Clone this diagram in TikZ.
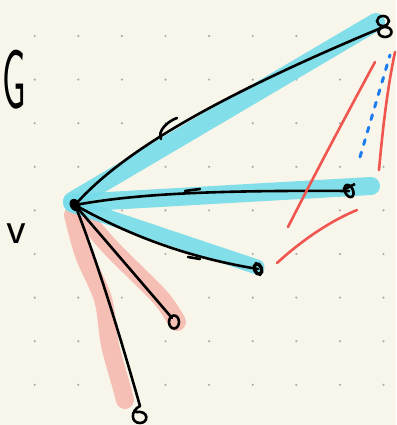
\documentclass[tikz,border=0pt]{standalone}
\usetikzlibrary{calc}
\definecolor{paper}{RGB}{248,246,234}
\definecolor{dotgray}{RGB}{172,170,164}
\definecolor{hlcyan}{RGB}{118,220,233}
\definecolor{hlpink}{RGB}{246,186,176}
\definecolor{penred}{RGB}{240,86,80}
\definecolor{penblue}{RGB}{28,124,240}

\begin{document}
\begin{tikzpicture}[
  x=1pt, y=-1pt,
  pt/.style={coordinate},
  hlblue/.style={draw=hlcyan, line width=18pt, line cap=round, opacity=0.9},
  hlred/.style={draw=hlpink, line width=18pt, line cap=round, line join=round, opacity=0.9},
  edge/.style={draw=black, line width=2.6pt, line cap=round},
  vmark/.style={draw=black, line width=2.6pt},
  harp/.style={draw=black, line width=2.6pt, line cap=round},
  redpen/.style={draw=penred, line width=2.6pt, line cap=round},
  bluepen/.style={draw=penblue, line width=3pt, line cap=round, dash pattern=on 5pt off 8pt},
  hand/.style={font=\sffamily, inner sep=0pt}
]

% paper and dot grid
\fill[paper] (0,0) rectangle (396,425);
\useasboundingbox (0,0) rectangle (396,425);
\foreach \i in {0,...,8}
  \foreach \j in {0,...,8}
    \fill[dotgray] (34.7+43.6*\i, 36+43.6*\j) circle (1.2);

% vertices
\node[pt] (v) at (75,205) {};
\node[pt] (a) at (381,28) {};
\node[pt] (b) at (349,191) {};
\node[pt] (c) at (258,269) {};
\node[pt] (d) at (172,318) {};
\node[pt] (f) at (140,406) {};

% highlights
\draw[hlred] plot[smooth] coordinates {(73,215) (84,255) (103,299) (110,345) (121,385) (125,400)};
\draw[hlred] plot[smooth] coordinates {(78,210) (112,249) (160,297) (177,322)};
\draw[hlblue] (72,201) -- (376,22);
\draw[hlblue] (72,203) -- (371,186);
\draw[hlcyan, line width=15pt, line cap=round, opacity=0.9] (72,205) -- (257,267);

% edges from v
\draw[edge] (v) .. controls (125,148) and (228,92) .. (a);
\draw[edge] (v) .. controls (130,195) and (200,190) .. (b);
\draw[edge] (v) .. controls (130,236) and (190,258) .. (c);
\draw[edge] (v) -- (d);
\draw[edge] (v) .. controls (100,268) and (124,350) .. (f);

% harpoon ticks
\draw[harp] (177,118) .. controls (168,121) and (157,131) .. (161,139);
\draw[harp] (185,191) -- (200,189);
\draw[harp] (188,257) -- (200,259);

% vertex marks
\fill[black, rotate around={30:(v)}] (v) ellipse (5 and 6.5);
\draw[vmark] (383,21) ellipse (6 and 5);
\draw[vmark] (385,32) ellipse (6.5 and 5);
\draw[vmark, rotate around={25:(b)}] (b) ellipse (4 and 6.5);
\draw[vmark] (b) ++(-6,-1) -- ++(12,-6);
\draw[black, line width=3.4pt, rotate around={20:(c)}] (c) ellipse (3.5 and 5.5);
\draw[vmark] (d) ++(2,4) ellipse (5 and 6.5);
\draw[edge] (f) .. controls (130,411) and (131,423) .. (140,423)
  .. controls (149,423) and (149,410) .. (136,412);

% pen strokes
\draw[redpen] (288,227) .. controls (318,168) and (348,112) .. (375,62);
\draw[redpen] (379,170) .. controls (383,125) and (388,85) .. (395,52);
\draw[redpen] (277,263) .. controls (300,242) and (328,222) .. (357,210);
\draw[bluepen] (360,157) -- (390,55);

% labels
\node[hand] (glabel) at (14,80) {\scalebox{0.45}[1]{\fontsize{84}{84}\selectfont G}};
\node[hand] (vlabel) at (16,234) {\fontsize{46}{46}\selectfont v};

\end{tikzpicture}
\end{document}
